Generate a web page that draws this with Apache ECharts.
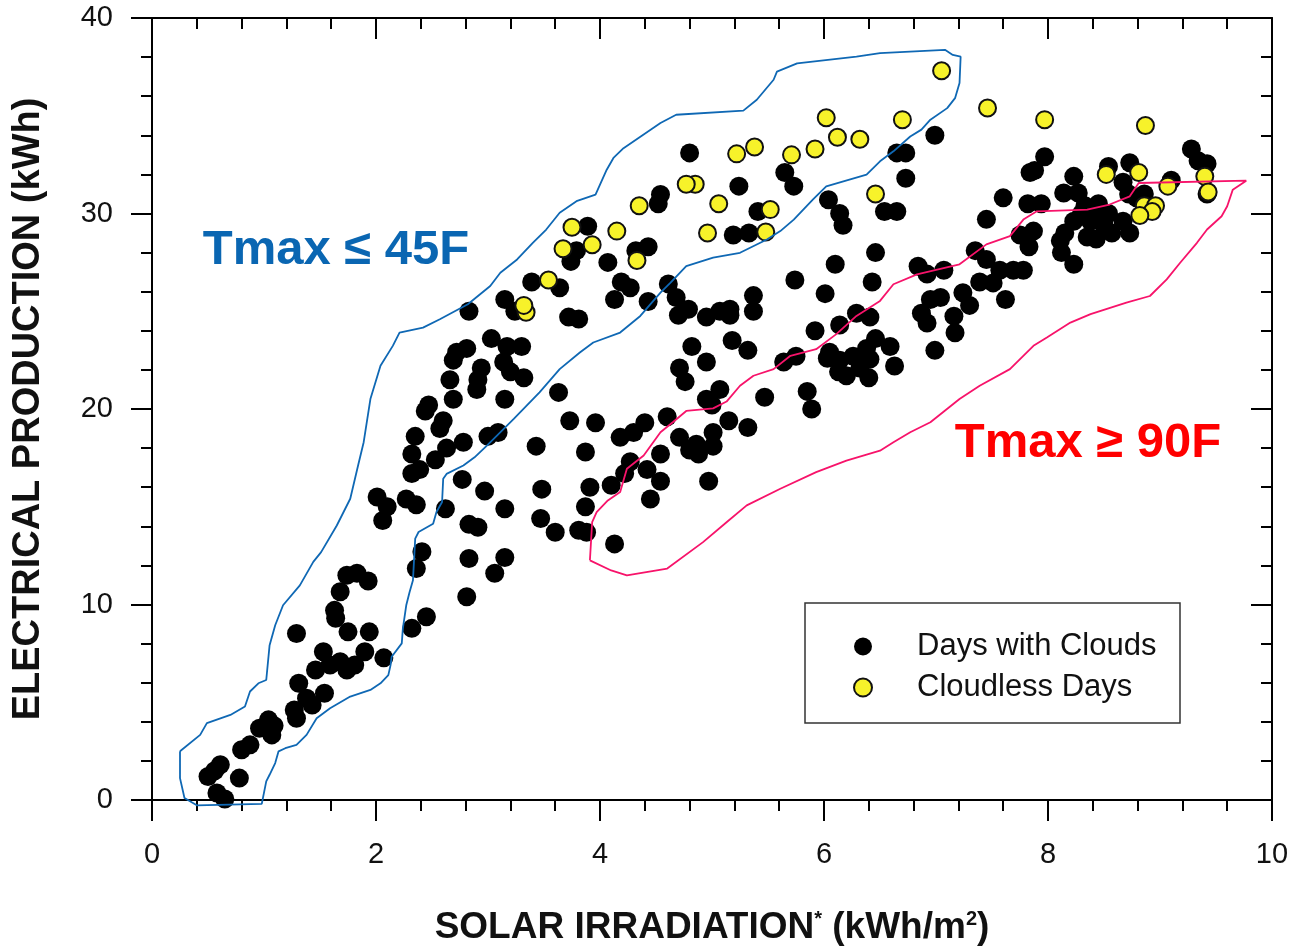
<!DOCTYPE html>
<html>
<head>
<meta charset="utf-8">
<script src="https://cdn.jsdelivr.net/npm/echarts@6/dist/echarts.min.js"></script>
<style>
  html, body { margin: 0; padding: 0; background: #fff; }
  #main { width: 1297px; height: 951px; }
</style>
</head>
<body>
<div id="main"></div>
<script>
// days with clouds: [irradiation kWh/m2, production kWh]
var cloudyDays = [
  [0.58,0.36],[0.65,0.05],[0.50,1.2],[0.61,1.8],[0.56,1.5],[0.78,1.12],[0.80,2.57],[0.875,2.82],
  [0.96,3.67],[1.04,4.1],[1.07,3.33],[1.09,3.8],[1.29,8.52],[1.29,4.18],[1.27,4.6],[1.31,5.97],
  [1.38,5.2],[1.43,4.86],[1.46,6.65],[1.54,5.46],[1.53,7.58],[1.59,6.9],[1.68,10.65],[1.63,9.7],
  [1.64,9.3],[1.74,11.5],[1.83,11.6],[1.93,11.2],[1.75,8.6],[1.68,7.07],[1.74,6.65],[1.81,6.9],
  [1.90,7.58],[1.94,8.6],[2.07,7.27],[2.01,15.5],[2.10,15.0],[2.06,14.3],[2.27,15.4],[2.36,15.1],
  [2.32,16.7],[2.39,16.9],[2.32,17.7],[2.35,18.6],[2.53,17.4],[2.63,18.0],[2.57,19.0],[2.60,19.4],
  [2.44,19.9],[2.47,20.2],[2.69,20.5],[3.15,20.5],[2.78,18.3],[3.0,18.6],[3.09,18.8],[3.43,18.1],
  [2.77,16.4],[2.97,15.8],[3.15,14.9],[2.62,14.9],[2.41,12.7],[2.36,11.84],[2.83,14.1],[2.91,13.95],
  [2.83,12.35],[3.15,12.4],[3.06,11.6],[2.81,10.4],[2.45,9.37],[2.32,8.78],[3.48,15.9],[3.47,14.4],
  [2.83,25.0],[3.15,25.6],[3.39,26.5],[3.24,25.0],[2.72,22.9],[2.81,23.1],[2.69,22.5],[3.03,23.6],
  [3.17,23.2],[3.30,23.2],[3.14,22.4],[3.2,21.9],[3.32,21.6],[2.94,22.1],[2.91,21.5],[2.9,21.0],
  [2.66,21.5],
  [4.80,33.1],[5.24,31.4],[5.65,32.1],[5.73,31.4],[4.54,30.97],[4.52,30.5],[6.04,30.7],[6.14,30.0],
  [6.17,29.4],[5.41,30.1],[5.19,28.9],[5.33,29.0],[3.89,29.35],[3.79,28.1],[3.74,27.55],[4.07,27.5],
  [4.32,28.1],[4.43,28.3],[3.64,26.2],[3.72,24.7],[3.81,24.6],[4.19,26.5],[4.27,26.2],[4.13,25.6],
  [4.43,25.5],[4.61,26.4],[4.68,25.7],[4.79,25.1],[4.70,24.8],[4.95,24.7],[5.07,25.0],[5.16,25.1],
  [5.16,24.8],[5.37,25.8],[5.37,25.0],[6.10,27.4],[5.74,26.6],[6.01,25.9],[6.43,26.5],[6.46,28.0],
  [3.63,20.85],[4.82,23.2],[4.71,22.1],[4.76,21.4],[4.95,22.4],[5.18,23.5],[5.32,23.0],[4.95,20.5],
  [5.07,21.0],[5.0,20.2],[5.47,20.6],[5.85,20.9],[5.89,20.0],[5.92,24.0],[6.14,24.3],[6.29,24.9],
  [5.64,22.4],[5.75,22.7],[6.03,22.6],[6.13,21.9],[6.32,22.1],[6.05,22.9],[6.14,22.5],[6.26,22.7],
  [6.20,21.7],[6.38,23.1],
  [3.73,19.4],[3.96,19.3],[3.87,17.8],[4.18,18.55],[4.30,18.8],[4.40,19.3],[4.60,19.6],[4.71,18.55],
  [4.86,18.2],[5.01,18.8],[5.15,19.4],[5.32,19.05],[4.80,17.9],[4.88,17.7],[5.01,18.1],[4.27,17.3],
  [4.22,16.7],[4.42,16.9],[4.54,17.7],[4.54,16.3],[4.10,16.1],[3.91,16.0],[3.87,15.0],[4.45,15.4],
  [4.97,16.3],[3.60,13.7],[3.81,13.8],[3.88,13.7],[4.13,13.1],
  [6.99,34.0],[6.65,33.1],[6.73,33.1],[6.73,31.8],[6.54,30.1],[6.65,30.1],[9.28,33.3],[9.34,32.7],
  [9.42,32.55],[8.54,32.4],[8.73,32.6],[8.67,31.6],[8.72,31.0],[9.10,31.7],[9.42,31.0],[7.97,32.9],
  [7.84,32.1],[7.88,32.2],[7.60,30.8],[7.45,29.7],[7.82,30.5],[7.94,30.5],[8.23,31.9],[8.14,31.05],
  [8.27,31.05],[8.33,30.4],[8.45,30.5],[8.30,30.0],[8.42,30.0],[8.54,30.0],[8.38,29.6],[8.50,29.4],
  [8.35,28.8],[8.43,28.7],[8.57,29.0],[8.67,29.6],[8.73,29.0],[8.79,30.8],[8.86,31.0],[8.23,29.6],
  [7.75,28.9],[7.87,29.1],[7.83,28.3],[8.11,28.6],[8.15,29.0],[8.12,28.0],[8.23,27.4],[7.35,28.1],
  [7.45,27.65],[7.57,27.1],[7.69,27.1],[7.78,27.1],[7.39,26.5],[7.51,26.45],[7.62,25.6],[6.84,27.3],
  [6.92,26.9],[7.07,27.1],[6.95,25.6],[7.04,25.7],[6.87,24.9],[6.92,24.4],[7.16,24.75],[7.17,23.9],
  [7.24,25.95],[7.30,25.3],[6.41,24.7],[6.99,23.0],[6.46,23.6],[6.59,23.2],[6.63,22.2],[6.41,22.55],
  [6.40,21.6]
];

// cloudless days
var clearDays = [
  [7.05,37.3],[7.46,35.4],[6.70,34.8],[7.97,34.8],[8.87,34.5],[6.02,34.9],[6.12,33.9],[6.32,33.8],
  [5.92,33.3],[5.71,33.0],[5.38,33.4],[5.22,33.05],[6.46,31.0],[4.85,31.5],[4.77,31.5],[5.06,30.5],
  [5.52,30.2],[4.35,30.4],[4.15,29.1],[4.96,29.0],[5.48,29.05],[3.75,29.3],[3.93,28.4],[3.67,28.2],
  [4.33,27.6],[3.54,26.6],[3.34,24.95],[3.32,25.3],[8.52,32.0],[8.81,32.1],[9.07,31.4],[9.40,31.9],
  [9.43,31.1],[8.86,30.4],[8.96,30.4],[8.93,30.1],[8.82,29.9]
];

// hand-drawn envelope, Tmax <= 45F
var coldOutline = [
  [0.25,2.49],[0.43,3.33],[0.49,3.93],[0.70,4.35],[0.83,4.78],[0.875,5.55],[0.95,5.97],[1.02,6.14],
  [1.05,7.92],[1.10,8.94],[1.17,9.96],[1.32,10.98],[1.44,12.18],[1.51,12.68],[1.65,14.04],[1.77,15.41],
  [1.84,17.11],[1.89,18.30],[1.95,20.51],[2.04,22.21],[2.15,23.23],[2.21,23.91],[2.42,24.16],[2.57,24.59],
  [2.82,25.36],[3.02,26.29],[3.11,26.97],[3.26,27.65],[3.40,28.50],[3.52,29.18],[3.64,30.04],[3.79,30.63],
  [3.96,30.97],[4.06,32.24],[4.12,32.84],[4.21,33.34],[4.54,34.63],[4.68,35.05],[5.28,35.26],[5.40,35.82],
  [5.55,36.84],[5.58,37.26],[5.76,37.68],[6.29,38.02],[6.50,38.2],[7.08,38.37],[7.15,38.11],[7.22,38.02],
  [7.21,36.67],[7.17,35.90],[7.10,35.39],[6.95,34.80],[6.87,34.29],[6.77,33.94],[6.62,33.18],[6.50,32.67],
  [6.38,31.99],[6.02,31.39],[5.90,30.71],[5.73,29.69],[5.61,29.10],[5.49,28.67],[5.25,27.99],[5.01,27.74],
  [4.77,27.31],[4.63,26.46],[4.54,25.95],[4.36,24.76],[4.18,23.91],[3.94,23.40],[3.82,22.89],[3.64,22.04],
  [3.46,20.85],[3.23,19.49],[3.08,18.64],[2.99,18.13],[2.88,17.53],[2.78,17.11],[2.63,16.68],[2.60,16.43],
  [2.59,15.24],[2.54,14.73],[2.51,14.13],[2.38,13.71],[2.35,13.37],[2.33,11.24],[2.30,10.64],[2.27,9.96],
  [2.24,8.78],[2.23,8.01],[2.14,7.33],[2.13,6.90],[2.11,6.39],[2.04,5.97],[1.95,5.63],[1.77,5.29],
  [1.59,4.69],[1.47,4.18],[1.38,3.33],[1.29,2.82],[1.19,2.65],[1.13,2.49],[1.10,1.89],[1.05,1.29],
  [1.02,0.95],[0.98,-0.2],[0.40,-0.27],[0.29,0.1],[0.25,1.12],[0.25,2.49]
];

// hand-drawn envelope, Tmax >= 90F
var hotOutline = [
  [3.91,12.26],[3.93,14.21],[3.97,14.72],[4.07,15.32],[4.18,15.75],[4.24,16.94],[4.39,17.62],[4.54,18.81],
  [4.65,19.32],[4.77,19.90],[5.01,20.03],[5.13,20.38],[5.25,21.19],[5.37,21.70],[5.55,22.04],[5.70,22.72],
  [5.93,23.06],[6.11,23.83],[6.29,24.76],[6.50,25.53],[6.62,26.38],[6.83,26.89],[7.21,27.40],[7.45,28.42],
  [7.66,28.84],[7.78,29.69],[7.90,30.11],[8.35,30.20],[8.55,30.46],[8.73,30.88],[8.81,31.56],[9.77,31.68],
  [9.65,31.22],[9.60,30.37],[9.55,29.86],[9.42,29.18],[9.33,28.50],[9.18,27.48],[9.06,26.63],[8.91,25.78],
  [8.70,25.44],[8.38,24.85],[8.20,24.42],[7.99,23.66],[7.87,23.23],[7.66,22.04],[7.39,21.19],[7.21,20.51],
  [6.95,19.32],[6.77,18.81],[6.62,18.30],[6.50,17.87],[6.20,17.36],[5.93,16.77],[5.61,15.92],[5.31,15.07],
  [5.13,14.21],[4.92,13.19],[4.60,11.84],[4.24,11.49],[4.10,11.74],[3.91,12.26]
];

var font = 'Liberation Sans, Arial, sans-serif';

var chart = echarts.init(document.getElementById('main'));

function axisBase(inside, showLabel) {
  return {
    type: 'value',
    axisLine: { show: true, onZero: false, lineStyle: { color: '#000', width: 2 } },
    axisTick: { show: true, inside: inside, length: 21, lineStyle: { color: '#000', width: 2 } },
    minorTick: { show: true, splitNumber: 5, length: 11, lineStyle: { color: '#000', width: 2 } },
    splitLine: { show: false },
    minorSplitLine: { show: false },
    axisLabel: { show: showLabel, fontSize: 29, fontFamily: font, color: '#111' }
  };
}

var xBottom = axisBase(false, true);
xBottom.position = 'bottom';
xBottom.min = 0; xBottom.max = 10; xBottom.interval = 2;
xBottom.axisLabel.margin = 40;
xBottom.name = '{b|SOLAR IRRADIATION}{s|*}{b| (kWh/m}{s|2}{b|)}';
xBottom.nameLocation = 'middle';
xBottom.nameGap = 109;
xBottom.nameTextStyle = {
  rich: {
    b: { fontSize: 37, fontWeight: 'bold', fontFamily: font, color: '#111' },
    s: { fontSize: 20, fontWeight: 'bold', fontFamily: font, color: '#111', verticalAlign: 'top' }
  }
};

var xTop = axisBase(true, false);
xTop.position = 'top';
xTop.min = 0; xTop.max = 10; xTop.interval = 2;

var yLeft = axisBase(false, true);
yLeft.position = 'left';
yLeft.min = 0; yLeft.max = 40; yLeft.interval = 10;
yLeft.axisLabel.margin = 39;
yLeft.name = 'ELECTRICAL PRODUCTION (kWh)';
yLeft.nameLocation = 'middle';
yLeft.nameGap = 104;
yLeft.nameTextStyle = { fontSize: 38, fontWeight: 'bold', fontFamily: font, color: '#111' };

var yRight = axisBase(true, false);
yRight.position = 'right';
yRight.min = 0; yRight.max = 40; yRight.interval = 10;

var option = {
  animation: false,
  backgroundColor: '#fff',
  grid: { left: 152, right: 25, top: 18, bottom: 149 },
  xAxis: [xBottom, xTop],
  yAxis: [yLeft, yRight],
  legend: {
    data: ['Days with Clouds', 'Cloudless Days'],
    orient: 'vertical',
    left: 848,
    top: 626,
    itemWidth: 18,
    itemHeight: 18,
    itemGap: 10,
    textStyle: { fontSize: 31, lineHeight: 30, fontFamily: font, color: '#111', padding: [0, 0, 0, 40] }
  },
  graphic: [
    {
      type: 'rect',
      shape: { x: 805, y: 603, width: 375, height: 120 },
      style: { fill: 'none', stroke: '#333', lineWidth: 1.5 },
      z: 10
    },
    {
      type: 'text', x: 336, y: 250, z: 10,
      style: { text: 'Tmax \u2264 45F', fill: '#0a66b2', fontSize: 49, fontWeight: 'bold', fontFamily: font, align: 'center', verticalAlign: 'middle' }
    },
    {
      type: 'text', x: 1088, y: 443, z: 10,
      style: { text: 'Tmax \u2265 90F', fill: '#ff0000', fontSize: 49, fontWeight: 'bold', fontFamily: font, align: 'center', verticalAlign: 'middle' }
    }
  ],
  series: [
    {
      name: 'Days with Clouds',
      type: 'scatter',
      data: cloudyDays,
      symbolSize: 19,
      itemStyle: { color: '#000', opacity: 1 },
      z: 2
    },
    {
      name: 'Cloudless Days',
      type: 'scatter',
      data: clearDays,
      symbolSize: 17,
      itemStyle: { color: '#f7f22a', borderColor: '#111', borderWidth: 2, opacity: 1 },
      z: 3
    },
    {
      name: 'cold',
      type: 'line',
      data: coldOutline,
      symbol: 'none',
      clip: false,
      silent: true,
      lineStyle: { color: '#0f68b4', width: 1.8 },
      z: 4
    },
    {
      name: 'hot',
      type: 'line',
      data: hotOutline,
      symbol: 'none',
      clip: false,
      silent: true,
      lineStyle: { color: '#f7136a', width: 1.8 },
      z: 4
    }
  ]
};

chart.setOption(option);
</script>
</body>
</html>
